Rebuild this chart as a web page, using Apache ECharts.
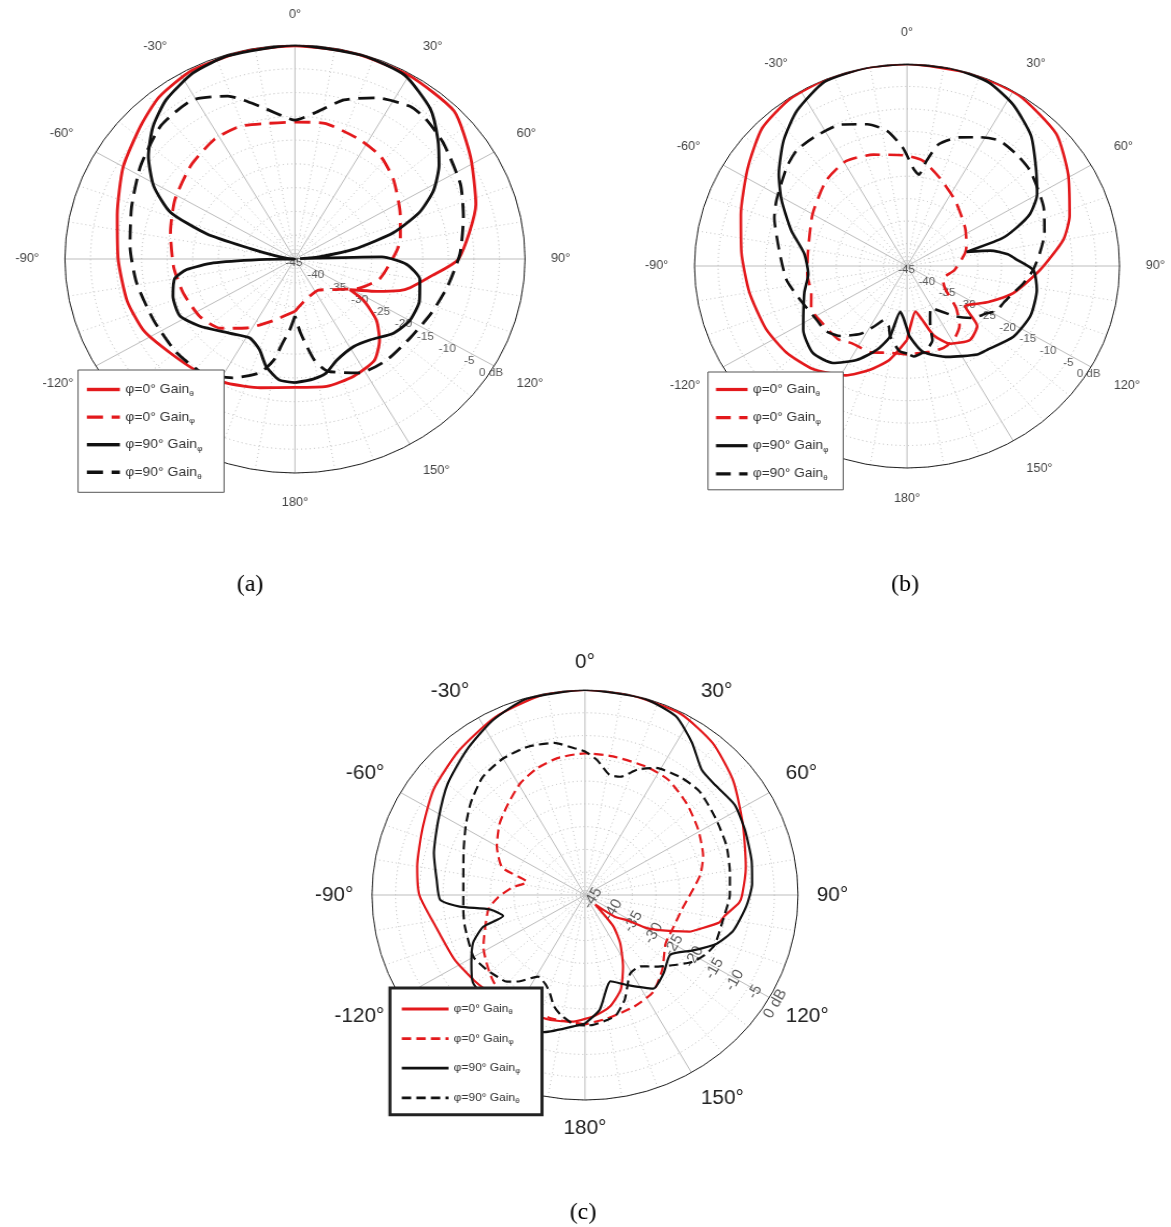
<!DOCTYPE html>
<html>
<head>
<meta charset="utf-8">
<script src="https://cdn.jsdelivr.net/npm/echarts@6/dist/echarts.min.js"></script>
<style>
  html, body { margin: 0; padding: 0; background: #fff; }
  body { width: 1171px; height: 1227px; position: relative; overflow: hidden; }
  .panel { position: absolute; transform-origin: 0 0; }
</style>
</head>
<body>
<div id="pa" class="panel"></div>
<div id="pb" class="panel"></div>
<div id="pc" class="panel"></div>
<script>
// Radiation patterns: [angle in degrees (0 = zenith, clockwise positive), gain in dB]
const RADIAL_TICKS = [-45, -40, -35, -30, -25, -20, -15, -10, -5, 0];
const TICK_LABEL_ANGLE = 121;
const SERIES_NAMES = ['φ=0° Gainθ', 'φ=0° Gainφ', 'φ=90° Gainφ', 'φ=90° Gainθ'];

// (a)
const A_PHI0_THETA = [[-180,-18],[-166,-17.1],[-153,-15.7],[-142,-14.7],[-129,-13.6],[-117,-11.8],[-105,-11],[-90,-10.4],[-75,-9],[-60,-6.2],[-47,-3.8],[-38,-1.8],[-27,-0.5],[-13,-0.2],[0,-0.2],[15,-0.2],[30,-0.4],[45,-1],[58,-4.5],[72,-7.8],[90,-13],[98,-18.3],[105,-21.7],[108,-23.5],[113,-27.6],[118,-31],[121,-32.5],[123,-29],[129,-24.5],[136,-21.2],[144,-18.6],[155,-17.8],[167,-17.5],[180,-18]];
const A_PHI0_PHI = [[-180,-34],[-175,-33.5],[-162,-31.4],[-147,-27.7],[-135,-24.4],[-123,-22.8],[-108,-22],[-94,-21.2],[-77,-20],[-62,-18.4],[-46,-16.7],[-32,-15.3],[-21,-15.1],[-12,-15.9],[0,-16.2],[12,-15.9],[27,-16.9],[38,-17.7],[49,-19.5],[65,-22.3],[79,-24],[87,-25.4],[104,-27.9],[116,-31],[130,-35],[145,-37],[168,-36],[180,-34]];
const A_PHI90_PHI = [[-180,-19],[-173,-19.4],[-166,-21.7],[-160,-24.7],[-152,-26.2],[-141,-24.9],[-127,-21.6],[-118,-19.5],[-108,-19.9],[-100,-21.1],[-96,-23.7],[-93,-29],[-91,-38],[-89,-45],[-85,-43.5],[-80,-41],[-76,-36],[-73,-27],[-68,-18.7],[-61,-13.4],[-53,-9.1],[-45,-5.7],[-37,-3.1],[-27,-1.1],[-17,-0.3],[0,0],[17,-0.2],[29,-0.8],[40,-3.8],[48,-7.4],[55,-10.6],[62,-14.3],[68,-18.7],[74,-25],[80,-33.4],[84,-40],[86,-44],[88.5,-28],[93,-23.1],[100,-20.2],[110,-19.1],[120,-19.1],[129,-20.2],[139,-22.5],[148,-23.3],[159,-22.2],[166,-20.2],[172,-19.5],[180,-19]];
const A_PHI90_THETA = [[-180,-33],[-176,-30],[-172,-27],[-169,-23.4],[-164,-20.1],[-154,-17.2],[-143,-15],[-130,-14.6],[-115,-14.5],[-99,-13.6],[-85,-12.6],[-71,-11.2],[-57,-9],[-43,-6.6],[-31,-6],[-21,-8.3],[-12,-12.2],[-3,-15.3],[0,-15.8],[7,-14.1],[16,-10.2],[25,-7.6],[35,-5.8],[41,-6],[50,-7.1],[64,-9],[75,-10.9],[88,-12.7],[101,-14.6],[113,-16],[126,-17],[140,-17.2],[152,-17.9],[165,-20.6],[170,-23.5],[176,-29.4],[180,-33]];

// (b)
const B_PHI0_THETA = [[-180,-28.5],[-170,-23.8],[-161,-20.5],[-152,-17.4],[-139,-14.6],[-127,-13],[-115,-12],[-100,-11.1],[-85,-9.8],[-72,-8],[-57,-4.8],[-45,-1.6],[-34,-0.3],[-24,-0.1],[-12,0],[0,0],[18,0],[32,-0.2],[47,-1.8],[59,-5.2],[72,-8.8],[80,-11.4],[92,-16.9],[105,-21.7],[115,-26],[121,-28.5],[126,-29.8],[132,-25],[141,-23.8],[152,-25.4],[160,-28.6],[165,-32.6],[170,-34.7],[177,-31.5],[180,-28.5]];
const B_PHI0_PHI = [[-180,-25.3],[-169,-25.3],[-158,-24.3],[-146,-24.2],[-138,-23.1],[-125,-23],[-115,-22.6],[-107,-23.8],[-95,-23.8],[-82,-23.8],[-60,-21.9],[-42,-19.4],[-29,-18.3],[-16,-19.2],[-2,-20.3],[8,-21.3],[19,-24.1],[35,-27.2],[55,-30],[70,-31.6],[77,-32.4],[95,-34.9],[105,-36.5],[112,-36.8],[122,-35.5],[132,-31],[140,-27.7],[149,-25.8],[157,-25.2],[166,-25.3],[180,-25.3]];
const B_PHI90_PHI = [[-180,-31],[-176,-33.5],[-172,-34.7],[-167,-28.8],[-161,-25.2],[-153,-21.5],[-144,-18.3],[-134,-17.2],[-123,-18.8],[-114,-21],[-105,-22.5],[-95,-24],[-83,-23.1],[-72,-19.2],[-61,-14.6],[-53,-11],[-43,-6.7],[-34,-3.3],[-23,-0.4],[-11,0],[0,0],[13,0],[23,-0.6],[32,-2.6],[42,-5.8],[51,-9.9],[60,-13.2],[66,-16.5],[70,-20.5],[73,-24],[76,-32],[79,-27],[83,-23.5],[86,-22],[92,-18.2],[101,-17],[113,-16.6],[125,-17.5],[138,-19.8],[143,-20.3],[157,-23],[170,-25.6],[178,-29.3],[180,-31]];
const B_PHI90_THETA = [[-180,-25.5],[-175,-26],[-167,-29],[-164,-31],[-158,-32],[-153,-30],[-147,-27],[-138,-24],[-130,-22.5],[-122,-22.4],[-108,-21.1],[-97,-19.3],[-84,-17.9],[-69,-14.9],[-62,-13.7],[-49,-11.3],[-42,-10.2],[-34,-10.2],[-24,-10.5],[-15,-12.3],[-8,-14.6],[-2,-18.6],[4,-23.5],[7,-24.5],[10,-21.2],[14,-17],[21,-14.3],[28,-12.5],[35,-10.9],[43,-11],[51,-11.4],[66,-13.3],[76,-15],[84,-16.7],[92,-18.3],[99,-20.1],[105,-21.7],[112,-23],[118,-23.6],[122,-25.1],[130,-27],[137,-29.6],[147,-33.3],[151,-34.5],[156,-33],[160,-30.6],[162,-27.6],[168,-25.8],[176,-24.8],[180,-25.5]];

// (c)
const C_PHI0_THETA = [[-180,-17.8],[-175,-17.1],[-165,-16.6],[-160,-16.6],[-150,-16.3],[-140,-15.8],[-129,-15],[-117,-14],[-103,-12.8],[-90,-10],[-80,-9],[-67,-7.7],[-54,-5.5],[-40,-3.6],[-26,-1.6],[-12,-0.2],[0,0],[13,-0.1],[27,-0.4],[39,-2.1],[51,-4.8],[64,-8],[72,-9.5],[80,-10.5],[90,-11.8],[93,-12.4],[99,-15.2],[102,-16],[107,-19.6],[110,-21.5],[113,-24.7],[116,-27.4],[119,-30],[122,-34.6],[127,-37],[131,-40.5],[134,-42],[137,-39],[139,-35.8],[145,-32],[153,-27.3],[160,-22.9],[168,-19.9],[176,-18.3],[180,-17.8]];
const C_PHI0_PHI = [[-180,-16.6],[-165,-17],[-150,-17.3],[-135,-17.8],[-118,-20.7],[-99,-24.3],[-92,-26.5],[-84,-29.5],[-77,-32.4],[-71,-26.5],[-60,-23.5],[-49,-21.1],[-39,-19.2],[-29,-16.9],[-20,-15.4],[-11,-14.4],[0,-13.9],[11,-14],[25,-14],[35,-14.2],[47,-15.6],[59,-17.1],[71,-18.6],[80,-20.3],[99,-24.3],[110,-25],[122,-24.9],[135,-21.9],[146,-19.3],[157,-18.4],[170,-17.5],[180,-16.6]];
const C_PHI90_PHI = [[-180,-16.8],[-178,-16.5],[-164,-13.7],[-150,-13.5],[-140,-14],[-129,-14.5],[-122,-16.7],[-114,-19.1],[-108,-22.4],[-105,-27.1],[-99,-24.7],[-95.5,-18.4],[-92,-14.4],[-84,-13.5],[-74,-11.8],[-62,-9.9],[-50,-7.1],[-38,-4.5],[-27,-2],[-16,-0.2],[0,0],[16,-0.1],[26,-1.3],[34,-4.6],[42,-8.1],[49,-8.4],[58,-7.7],[67,-8.3],[78,-9],[86,-9.6],[94,-10.8],[104,-12.7],[111,-15.2],[118,-19.1],[126,-22.7],[136,-21.1],[145,-19.9],[156,-23.4],[164,-25.3],[173,-19.6],[180,-16.8]];
const C_PHI90_THETA = [[-180,-16.4],[-176,-16.4],[-169,-18.2],[-165,-19.7],[-161,-22.2],[-157,-23.7],[-151,-24.5],[-144,-21.6],[-139,-19.8],[-133,-19.1],[-128,-18.5],[-120,-17.8],[-105,-18.7],[-97,-19.1],[-90,-19.3],[-70,-17.7],[-59,-15.6],[-50,-13.5],[-40,-11.3],[-30,-10.4],[-20,-10.3],[-11,-11],[-4,-12.7],[0,-13.5],[5,-15.3],[11,-18.1],[16,-18],[22,-15.3],[28,-13.4],[38,-12.2],[47,-11.8],[59,-12.7],[70,-13.2],[81,-14],[90,-14.4],[100,-15.3],[112,-15.5],[118,-16.6],[123,-18],[130,-21],[137,-23.5],[143,-25.4],[151,-25.3],[156,-23],[160,-20.5],[166,-17.8],[170,-17.2],[177,-16.4],[180,-16.4]];

const FONT = '"Liberation Sans", Arial, sans-serif';
const RED = '#e3191c';
const BLACK = '#111111';
const COLORS = [RED, RED, BLACK, BLACK];
const DASHED = [false, true, false, true];

// Panel layout: each chart is drawn in its own box, stretched horizontally by sx
const PANELS = [
  { el: 'pa', left: 0, top: 0, w: 540, h: 600, sx: 1.075, center: [274.4, 259], radius: 214,
    angleFont: 12, angleColor: '#444', angleMargin: 24,
    tickFont: 11, tickRotate: 0, tickOffset: [-1, 4],
    lineWidth: 2.8, dash: [15, 8],
    legend: { left: 72.6, top: 370, iconW: 30.7, gap: 13.1, lineH: 16, pad: [13, 20, 12, 6.5], font: 13, sub: 8, border: '#555', borderW: 1, lineW: 3.4 },
    caption: { text: '(a)', x: 232.6, y: 585 },
    data: [A_PHI0_THETA, A_PHI0_PHI, A_PHI90_PHI, A_PHI90_THETA] },
  { el: 'pb', left: 585, top: 0, w: 557, h: 600, sx: 1.052, center: [306.1, 266], radius: 202,
    angleFont: 12, angleColor: '#444', angleMargin: 25,
    tickFont: 11, tickRotate: 0, tickOffset: [-0.5, 4],
    lineWidth: 2.6, dash: [14, 8],
    legend: { left: 116.9, top: 372, iconW: 30, gap: 13.6, lineH: 16, pad: [11, 14, 8, 6], font: 13, sub: 8, border: '#555', borderW: 1, lineW: 3.2 },
    caption: { text: '(b)', x: 304.2, y: 585 },
    data: [B_PHI0_THETA, B_PHI0_PHI, B_PHI90_PHI, B_PHI90_THETA] },
  { el: 'pc', left: 290, top: 620, w: 577, h: 607, sx: 1.039, center: [283.9, 275], radius: 205,
    angleFont: 20, angleColor: '#222', angleMargin: 18,
    tickFont: 15, tickRotate: 60, tickOffset: [1, 8],
    lineWidth: 2.2, dash: [9, 5],
    legend: { left: 96.2, top: 368, iconW: 45, gap: 16.6, lineH: 14, pad: [15, 21, 10, 10], font: 11.5, sub: 7.5, border: '#222', borderW: 3, lineW: 2.8 },
    caption: { text: '(c)', x: 282, y: 593 },
    data: [C_PHI0_THETA, C_PHI0_PHI, C_PHI90_PHI, C_PHI90_THETA] }
];

function patternSeries(p) {
  return p.data.map((pts, i) => ({
    type: 'line',
    name: SERIES_NAMES[i],
    coordinateSystem: 'polar',
    data: pts.map(([deg, db]) => [db, deg]),
    symbol: 'none',
    showSymbol: false,
    smooth: 0.2,
    silent: true,
    z: 3,
    itemStyle: { color: COLORS[i] },
    lineStyle: { color: COLORS[i], width: p.lineWidth, type: DASHED[i] ? p.dash : 'solid', cap: 'butt' }
  }));
}

function tickLabelSeries(p) {
  return {
    type: 'scatter',
    coordinateSystem: 'polar',
    silent: true,
    z: 1,
    symbolSize: 1,
    itemStyle: { color: 'rgba(0,0,0,0)' },
    data: RADIAL_TICKS.map(v => [v, TICK_LABEL_ANGLE]),
    label: {
      show: true, position: 'inside', offset: p.tickOffset, rotate: p.tickRotate,
      fontSize: p.tickFont, fontFamily: FONT, color: '#333',
      formatter: (d) => d.value[0] === 0 ? '0 dB' : String(d.value[0])
    }
  };
}

function panelOption(p) {
  const L = p.legend;
  return {
    animation: false,
    backgroundColor: '#fff',
    polar: { center: p.center, radius: p.radius },
    angleAxis: {
      type: 'value', min: -180, max: 180, interval: 30,
      startAngle: -90, clockwise: true,
      axisLine: { show: true, lineStyle: { color: '#222', width: 1 } },
      axisTick: { show: false },
      axisLabel: {
        margin: p.angleMargin, fontSize: p.angleFont, fontFamily: FONT, color: p.angleColor,
        formatter: v => (Math.abs(v) === 180 ? 180 : v) + '°'
      },
      splitLine: { show: true, lineStyle: { color: '#bdbdbd', width: 1 } },
      minorTick: { show: false, splitNumber: 3 },
      minorSplitLine: { show: true, lineStyle: { color: '#c6c6c6', width: 1, type: [1, 3] } }
    },
    radiusAxis: {
      type: 'value', min: -45, max: 0, interval: 5,
      axisLine: { show: false }, axisTick: { show: false }, axisLabel: { show: false },
      splitLine: { show: true, lineStyle: { color: '#bcbcbc', width: 1, type: [1, 3] } }
    },
    legend: {
      data: SERIES_NAMES,
      orient: 'vertical',
      left: L.left, top: L.top,
      itemWidth: L.iconW, itemHeight: 10, itemGap: L.gap,
      padding: L.pad,
      backgroundColor: '#fff',
      borderColor: L.border, borderWidth: L.borderW, borderRadius: 0,
      selectedMode: false,
      itemStyle: { color: 'rgba(0,0,0,0)', borderWidth: 0, opacity: 0 },
      lineStyle: { width: L.lineW },
      formatter: name => '{n|' + name.slice(0, -1) + '}{s|' + name.slice(-1) + '}',
      textStyle: {
        color: '#333',
        rich: {
          n: { fontSize: L.font, lineHeight: L.lineH, fontFamily: FONT, color: '#333' },
          s: { fontSize: L.sub, lineHeight: L.sub, verticalAlign: 'bottom', fontFamily: FONT, color: '#333' }
        }
      }
    },
    graphic: [{
      type: 'text', x: p.caption.x, y: p.caption.y, scaleX: 1 / p.sx,
      style: {
        text: p.caption.text, font: '24px "Liberation Serif", "Times New Roman", serif', fill: '#000',
        textAlign: 'center', textVerticalAlign: 'middle', align: 'center', verticalAlign: 'middle'
      }
    }],
    series: [tickLabelSeries(p)].concat(patternSeries(p))
  };
}

PANELS.forEach(p => {
  const el = document.getElementById(p.el);
  el.style.left = p.left + 'px';
  el.style.top = p.top + 'px';
  el.style.width = p.w + 'px';
  el.style.height = p.h + 'px';
  el.style.transform = 'scaleX(' + p.sx + ')';
  const chart = echarts.init(el, null, { renderer: 'canvas', width: p.w, height: p.h });
  chart.setOption(panelOption(p));
});
</script>
</body>
</html>
